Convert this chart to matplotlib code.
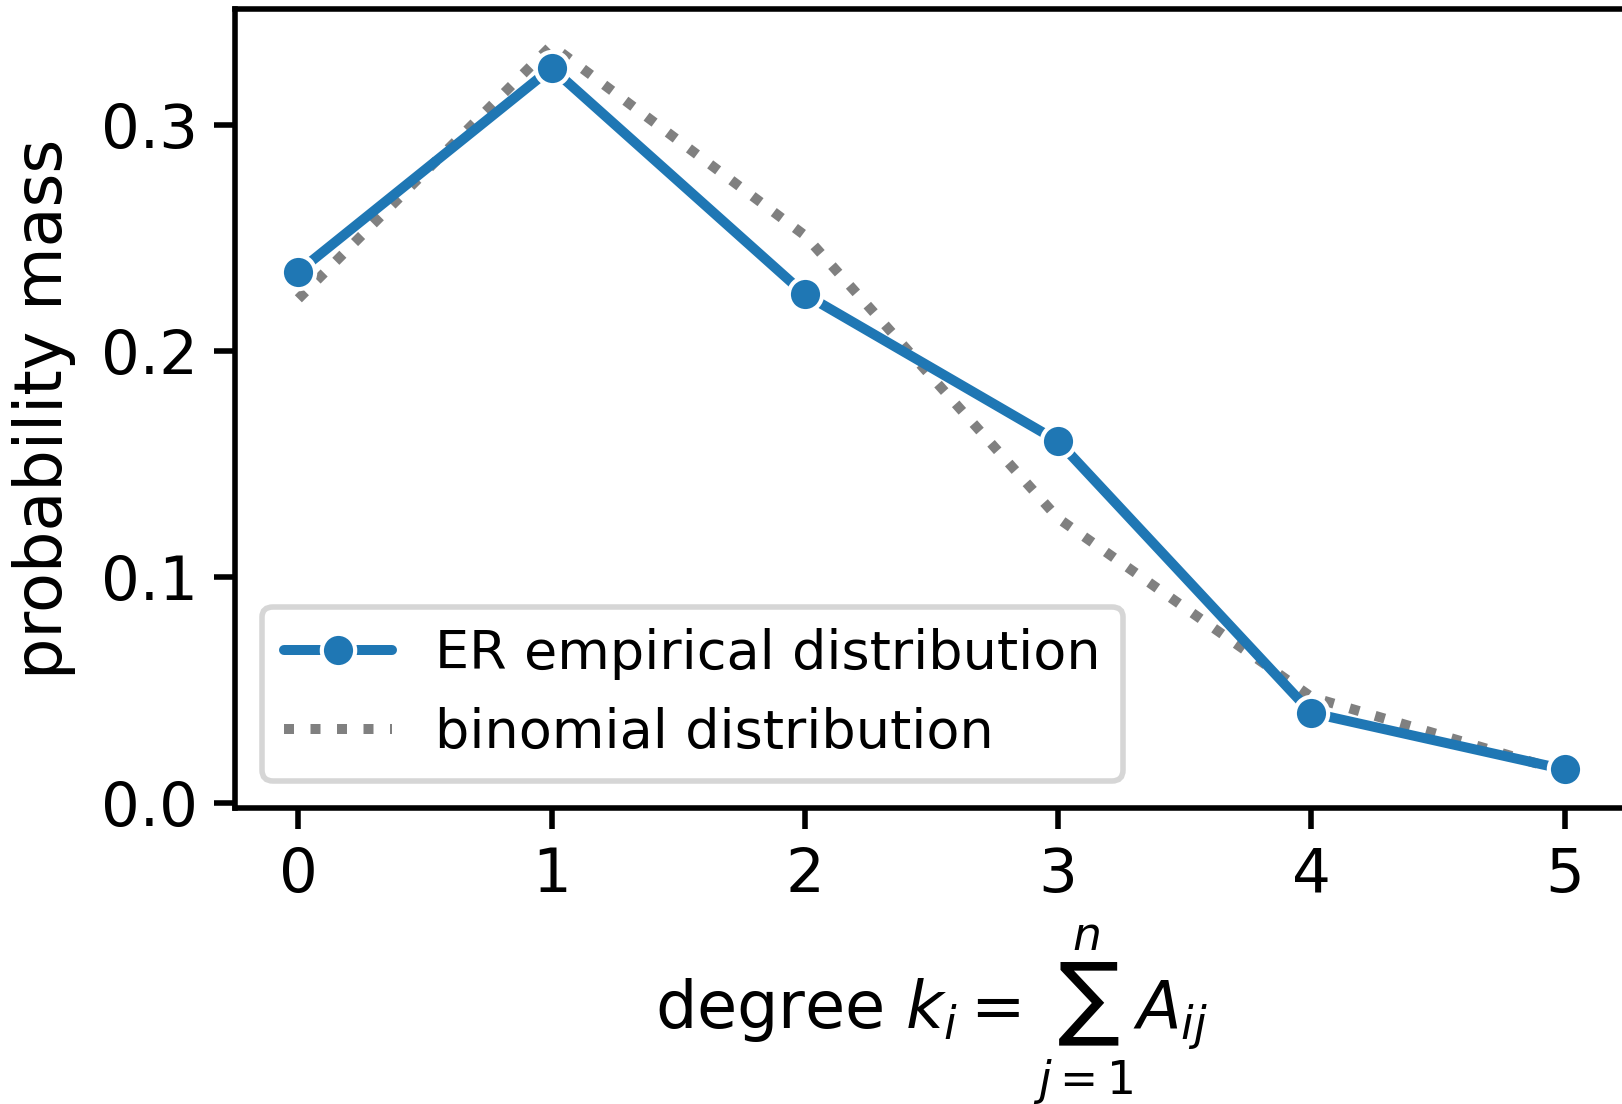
import numpy as np
import matplotlib
matplotlib.use('Agg')
import matplotlib.pyplot as plt
import seaborn as sns

# degree values and probability masses
degrees = [0, 1, 2, 3, 4, 5]
er_empirical = [0.235, 0.325, 0.225, 0.160, 0.040, 0.015]
binomial = [0.223, 0.335, 0.251, 0.126, 0.047, 0.014]

sns.set_theme(context='poster', style='ticks')
plt.rcParams['font.family'] = ['DejaVu Sans']
for key in ['text.color', 'axes.labelcolor', 'xtick.color', 'ytick.color', 'axes.edgecolor']:
	plt.rcParams[key] = 'black'
plt.rcParams['legend.fontsize'] = 19.5
plt.rcParams['axes.linewidth'] = 2.0
for ax_name in ['xtick', 'ytick']:
	plt.rcParams[ax_name + '.major.size'] = 7.5
	plt.rcParams[ax_name + '.major.width'] = 2.0
	plt.rcParams[ax_name + '.major.pad'] = 6

fig = plt.figure(figsize=(8.11, 5.52), dpi=200)
ax = fig.add_axes([0.1449, 0.2681, 0.8588, 0.7237])

ax.plot(degrees, er_empirical, color='#1f77b4', marker='o', markersize=12,
        markeredgecolor='white', markeredgewidth=1.5, linewidth=3.6,
        label='ER empirical distribution', zorder=3)
ax.plot(degrees, binomial, color='gray', linestyle=':', linewidth=3.6,
        label='binomial distribution', zorder=2)

ax.set_xlim(-0.25, 5.25)
ax.set_xticks(degrees)
ax.set_yticks([0.0, 0.1, 0.2, 0.3])
ax.set_xlabel(r'degree $k_i = \sum_{j=1}^{n} A_{ij}$', fontsize=23.5, labelpad=6.5)
ax.set_ylabel('probability mass', fontsize=23.5, labelpad=9)
ax.legend(loc='lower left')

fig.savefig('out.png', dpi=200)
